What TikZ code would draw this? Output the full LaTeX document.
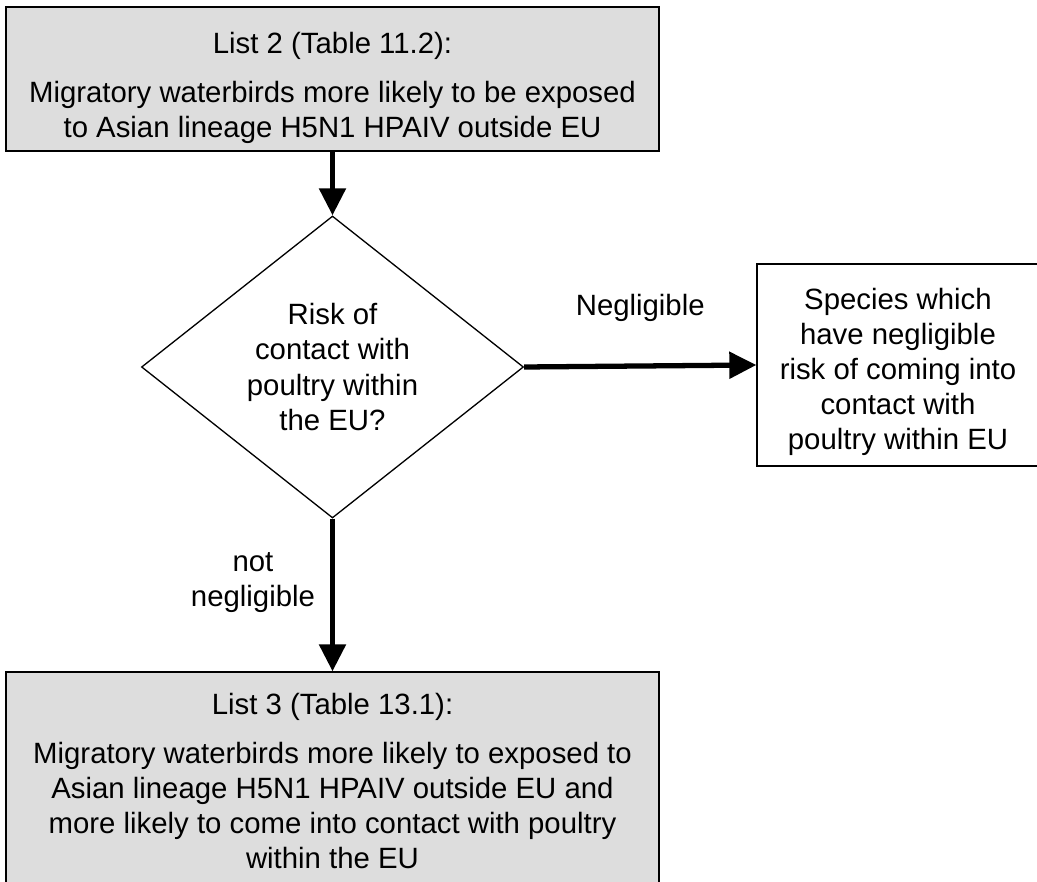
\documentclass[tikz,border=0pt]{standalone}
\usepackage{fontspec}
\setmainfont{Liberation Sans}
\usetikzlibrary{arrows.meta,shapes.geometric}

\definecolor{listgray}{RGB}{221,221,221}

\begin{document}
\begin{tikzpicture}[
  >={Triangle[length=0.54cm,width=0.52cm]},
  x=1cm,y=1cm,
  font=\fontsize{16.7pt}{20pt}\selectfont,
  listbox/.style={draw=black, line width=0.75pt, fill=listgray, align=center,
    minimum width=13.06cm, inner sep=0pt},
  decision/.style={draw=black, line width=0.75pt, diamond, aspect=1.265,
    align=center, minimum width=7.64cm, minimum height=6.04cm, inner sep=0pt},
  outcome/.style={draw=black, line width=0.75pt, fill=white, align=center,
    minimum width=5.64cm, minimum height=4.04cm, inner sep=0pt},
  arrow/.style={->, line width=3pt},
  branch/.style={align=center}
]
\useasboundingbox (0,0) rectangle (20.74,-17.64);

% Input list, decision and outcomes (struts push the text a little down, as in Word)
\node[listbox, minimum height=2.88cm] (list2) at (6.65,-1.58) {\rule{0pt}{0.79cm}List 2 (Table 11.2):\\[0.28cm]
  Migratory waterbirds more likely to be exposed\\to Asian lineage H5N1 HPAIV outside EU};
\node[decision] (risk) at (6.65,-7.34) {Risk of\\contact with\\poultry within\\the EU?};
\node[outcome] (negl) at (17.96,-7.30) {\rule{0pt}{0.71cm}Species which\\have negligible\\risk of coming into\\contact with\\poultry within EU};
\node[listbox, minimum height=4.24cm] (list3) at (6.65,-15.56) {\rule{0pt}{0.55cm}List 3 (Table 13.1):\\[0.28cm]
  Migratory waterbirds more likely to exposed to\\Asian lineage H5N1 HPAIV outside EU and\\more likely to come into contact with poultry\\within the EU};

% Connectors
\draw[arrow] (list2.south) -- (risk.north);
\draw[arrow] (risk.east) -- node[yshift=1.16cm] {Negligible} (negl.west);
\draw[arrow] (risk.south) -- node[branch, left=0.18cm, pos=0.42] {not\\negligible} (list3.north);

\end{tikzpicture}
\end{document}
